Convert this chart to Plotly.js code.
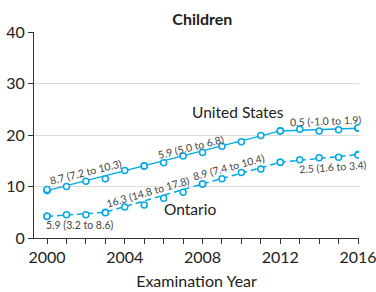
<!DOCTYPE html>
<html><head><meta charset="utf-8">
<script src="https://cdn.plot.ly/plotly-3.0.1.min.js"></script>
<style>html,body{margin:0;padding:0;background:#fff}#c{width:376px;height:292px}</style>
</head><body><div id="c"></div>
<script>
const years = [2000,2001,2002,2003,2004,2005,2006,2007,2008,2009,2010,2011,2012,2013,2014,2015,2016];
const usObserved = [9.4,10.0,11.0,11.5,13.1,14.0,14.6,15.9,16.6,17.8,18.7,19.9,20.8,21.1,20.8,21.0,21.4];
const onObserved = [4.2,4.5,4.5,4.9,6.0,6.4,7.7,8.9,10.5,11.5,12.7,13.4,14.7,15.2,15.6,15.7,16.1];
const usJoinYears = [2000,2005,2012,2016];
const usFit = [9.2,14.0,20.8,21.3];
const onJoinYears = [2000,2003,2008,2012,2016];
const onFit = [4.2,5.0,10.5,14.7,16.2];
const apcLabels = ["8.7 (7.2 to 10.3)","5.9 (5.0 to 6.8)","0.5 (-1.0 to 1.9)","5.9 (3.2 to 8.6)","16.3 (14.8 to 17.8)","8.9 (7.4 to 10.4)","2.5 (1.6 to 3.4)"];
const apcX = [2001.99,2007.41,2014.33,2001.7,2005.18,2009.36,2014.71];
const apcY = [12.8,17.7,22.7,2.44,8.87,13.74,13.84];
const apcAngle = [-14,-14,-2,0,-16,-15,-4];
const seriesNames = ["United States","Ontario"];
const seriesLabelX = [2009.81,2007.34];
const seriesLabelY = [24.5,5.7];
const xTicks = [2000,2004,2008,2012,2016];
const yTicks = [0,10,20,30,40];

const C = '#00a9e6';
const FONT = 'Lato, "Open Sans", sans-serif';
const TXT = '#222';
const traces = [
  {x: usJoinYears, y: usFit, mode:'lines+markers', line:{color:C,width:1.5},
   marker:{symbol:'circle-open',size:6,color:C,line:{width:1.6}}},
  {x: years, y: usObserved, mode:'markers',
   marker:{symbol:'circle',size:6,color:'#fff',line:{color:C,width:1.5}}},
  {x: onJoinYears, y: onFit, mode:'lines+markers', line:{color:C,width:1.5,dash:'6px,4px'},
   marker:{symbol:'circle-open',size:6,color:C,line:{width:1.6}}},
  {x: years, y: onObserved, mode:'markers',
   marker:{symbol:'circle',size:6,color:'#fff',line:{color:C,width:1.5}}}
];
const annotations = [];
apcLabels.forEach((t,i)=>annotations.push({x:apcX[i],y:apcY[i],text:t,showarrow:false,
  textangle:apcAngle[i],font:{family:FONT,size:10.5,color:'#444'},xanchor:'center',yanchor:'middle'}));
seriesNames.forEach((t,i)=>annotations.push({x:seriesLabelX[i],y:seriesLabelY[i],text:t,showarrow:false,
  font:{family:FONT,size:15.5,color:TXT},xanchor:'center',yanchor:'middle'}));

const layout = {
  width:376, height:292, showlegend:false,
  margin:{l:34,r:17,t:32,b:54},
  paper_bgcolor:'#fff', plot_bgcolor:'#fff',
  font:{family:FONT,color:TXT},
  title:{text:'<b>Children</b>', font:{family:FONT,size:16,color:TXT},
         x:0.518, xref:'paper', xanchor:'center', y:0.935, yanchor:'middle'},
  xaxis:{range:[1999.33,2016.05], tickvals:xTicks, ticktext:xTicks.map(String),
    showgrid:false, zeroline:false, showline:true, linecolor:'#333', linewidth:1,
    ticks:'outside', ticklen:5, tickcolor:'#333', tickfont:{family:FONT,size:16,color:TXT},
    ticklabeloverflow:'allow',
    minor:{dtick:1, tick0:2000, ticks:'outside', ticklen:5, tickcolor:'#333', showgrid:false},
    title:{text:'Examination Year', font:{family:FONT,size:16,color:TXT}, standoff:10}},
  yaxis:{range:[0,40], tickvals:yTicks, showgrid:true, gridcolor:'#dcdcdc', gridwidth:1,
    zeroline:false, showline:true, linecolor:'#333', linewidth:1,
    ticks:'outside', ticklen:5, tickcolor:'#333', tickfont:{family:FONT,size:16,color:TXT}},
  annotations: annotations
};
Plotly.newPlot('c', traces, layout, {displayModeBar:false, staticPlot:true});
</script></body></html>
